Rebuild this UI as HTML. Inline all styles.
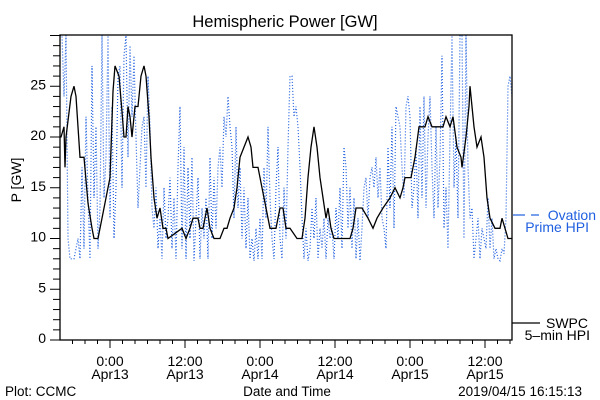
<!DOCTYPE html>
<html><head><meta charset="utf-8"><style>
html,body{margin:0;padding:0;background:#fff;}
svg{display:block;font-family:"Liberation Sans",sans-serif;}
</style></head><body>
<svg id="chart" width="600" height="400" viewBox="0 0 600 400">
<text x="285" y="27" font-size="16.5" text-anchor="middle">Hemispheric Power [GW]</text>
<text transform="translate(21,180) rotate(-90)" font-size="14" text-anchor="middle">P [GW]</text>
<g id="axes"></g>
<g id="series"></g>
<rect x="60" y="35" width="452" height="305" fill="none" stroke="#000" stroke-width="1.3"/>
<g>
<line x1="513" y1="215" x2="525" y2="215" stroke="#1f5fe0" stroke-width="1.2"/>
<line x1="531" y1="215" x2="539" y2="215" stroke="#1f5fe0" stroke-width="1.2"/>
<text x="596" y="220" font-size="14" fill="#1f5fe0" text-anchor="end">Ovation</text>
<text x="589" y="232" font-size="14" fill="#1f5fe0" text-anchor="end">Prime HPI</text>
</g>
<g>
<line x1="512" y1="323" x2="540" y2="323" stroke="#000" stroke-width="1.2"/>
<text x="588" y="328" font-size="14" text-anchor="end">SWPC</text>
<text x="590" y="340" font-size="14" text-anchor="end">5–min HPI</text>
</g>
<text x="5" y="396" font-size="13.5">Plot: CCMC</text>
<text x="287" y="396" font-size="13.5" text-anchor="middle">Date and Time</text>
<text x="582" y="396" font-size="13.5" text-anchor="end">2019/04/15 16:15:13</text>
</svg>
<script>
// hours relative to 2019-04-13 00:00
const swpcTimes=[-8,-7.84,-7.36,-7.2,-7.04,-6.24,-5.76,-5.44,-4.8,-4.16,-3.52,-2.88,-2.56,-1.92,-1.28,-0.64,0,0.48,0.8,1.44,1.92,2.24,2.56,2.88,3.2,3.52,4.0,4.48,4.96,5.44,5.76,6.24,6.56,7.04,7.52,8.0,8.48,8.96,9.28,11.52,12.16,12.8,13.28,14.08,14.4,14.88,15.52,16.0,16.64,17.6,18.24,18.72,19.2,19.84,20.32,20.8,21.44,22.08,22.56,22.88,23.68,24.32,24.96,25.6,26.56,27.2,27.68,28.16,28.8,29.92,30.72,31.2,31.68,32.16,32.64,33.12,33.6,34.08,34.56,34.88,35.36,35.84,38.4,38.88,39.36,40.32,41.28,42.08,42.72,43.68,44.8,45.6,46.4,46.88,47.2,48.16,48.8,49.44,50.4,50.88,51.52,53.28,53.76,54.4,54.88,55.52,56.16,56.32,56.96,57.44,57.6,58.24,58.72,59.36,59.84,60.32,60.8,61.6,62.4,62.72,63.2,63.68,64.32];
const swpcValues=[20,20,21,17,20,24,25,24,18,18,13.5,11,10,10,12,14,16,24.5,27,26,22.5,20,20,23,22,20,23,23,26,27,26,22,18,14,12,13,11,11,10,11,10,11,12,12,11,11,13,11,10,10,11,11,12,13,15,18,19,20,19,17,17,15,13,11,11,13,13,11,11,10,10,12,16,19,21,19,16,14,12,13,11,10,10,11,13,13,12,11,12,13,14,15,14,15,16,16,18,21,21,22,21,21,22,21,22,19,18,17,20,23,25,21,19,20,18,14,12,11,11,12,11,10,10];
const ovationStart=-8, ovationStep=0.32;
const ovationValues=[30,30,24,30,10,8,8,8,9,10,8,17,9,22,14,8,27,14,21,9,13,30,14,18,30,12,23,10,15,26,27,15,28,30,18,29,22,28,20,13,17,21,22,15,26,21,13,11,15,9,12,8,15,10,12,16,9,14,
8,17,23,9,19,8,17,10,18,7.8,12,16,8,13,10,14,8,18,10,16,11,17,19,15,22,20,24,21,19,12,21,13,17,10,15,9,14,8,10,7.8,11,8,12,8,17,12,21,14,10,8,15,19,10,8,15,10,19,26,26,22,23,21,17,12,8,11,7.8,9,13,10,14,8,11,9,12,8,12,10,11,8,13,10,15,9,19,17,11,15,9,14,8,12,7.8,11,15,16,12,16,17,15,18,14,17,12,11,9,19,13,21,11,23,22,21,17,14,23,24,22,13,15,19,12,23,14,24,13,20,24,17,12,21,13,18,28,11,15,9,20,30,15,20,12,30,30,10,30,17,12,13,8,10,12,8,11,10,9,14,9,12,8,9,8,7.8,9,8.5,12,25,26,24];
const yTicks=[0,5,10,15,20,25];
const xMajorHours=[0,12,24,36,48,60];
const xMajorLabels=[["0:00","Apr13"],["12:00","Apr13"],["0:00","Apr14"],["12:00","Apr14"],["0:00","Apr15"],["12:00","Apr15"]];

const NS="http://www.w3.org/2000/svg";
const X0=60,X1=512,Y0=340,YT=35,TMIN=-8,TMAX=64.32,VMAX=(340-35)/10.15;
function xs(h){return X0+(h-TMIN)/(TMAX-TMIN)*(X1-X0);}
function ys(v){return Y0-v/VMAX*(Y0-YT);}
function mk(tag,attrs,parent){const e=document.createElementNS(NS,tag);for(const k in attrs)e.setAttribute(k,attrs[k]);parent.appendChild(e);return e;}
const axes=document.getElementById('axes'),series=document.getElementById('series');

for(let v=0;v<=30;v++){
  const y=ys(v);if(y<YT)break;
  const major=v%5===0;
  const t=mk('line',{x1:major?50:53,x2:X0,y1:y,y2:y,stroke:'#000','stroke-width':1},axes);
  
  
}
yTicks.forEach(v=>{
  const t=mk('text',{x:46,y:ys(v)+3,'font-size':14,'text-anchor':'end'},axes);
  t.textContent=String(v);
  
  
});
for(let h=-6;h<=64;h+=2){
  const x=xs(h);const major=h%12===0;
  const t=mk('line',{x1:x,x2:x,y1:Y0,y2:major?Y0+8:Y0+4,stroke:'#000','stroke-width':1},axes);
  
  
}
xMajorHours.forEach((h,i)=>{
  const t1=mk('text',{x:xs(h),y:366,'font-size':14,'text-anchor':'middle'},axes);
  t1.textContent=xMajorLabels[i][0];
  
  
  const t2=mk('text',{x:xs(h),y:379,'font-size':14,'text-anchor':'middle'},axes);
  t2.textContent=xMajorLabels[i][1];
  
  
});

const defs=mk('defs',{},document.getElementById('chart'));
const cp=mk('clipPath',{id:'plotclip'},defs);
mk('rect',{x:X0,y:YT,width:X1-X0,height:Y0-YT},cp);

let d='';
ovationValues.forEach((v,i)=>{const h=ovationStart+i*ovationStep;d+=(i?'L':'M')+xs(h).toFixed(1)+','+ys(v).toFixed(1);});
const ov=mk('path',{d:d,fill:'none',stroke:'#1f5fe0','stroke-width':1.2,'stroke-dasharray':'1 2','clip-path':'url(#plotclip)'},series);



let d2='';
swpcTimes.forEach((h,i)=>{
  d2+=(i?'L':'M')+xs(h).toFixed(1)+','+ys(swpcValues[i]).toFixed(1);
});
const sw=mk('path',{d:d2,fill:'none',stroke:'#000','stroke-width':1.3,'clip-path':'url(#plotclip)'},series);


</script>
</body></html>
